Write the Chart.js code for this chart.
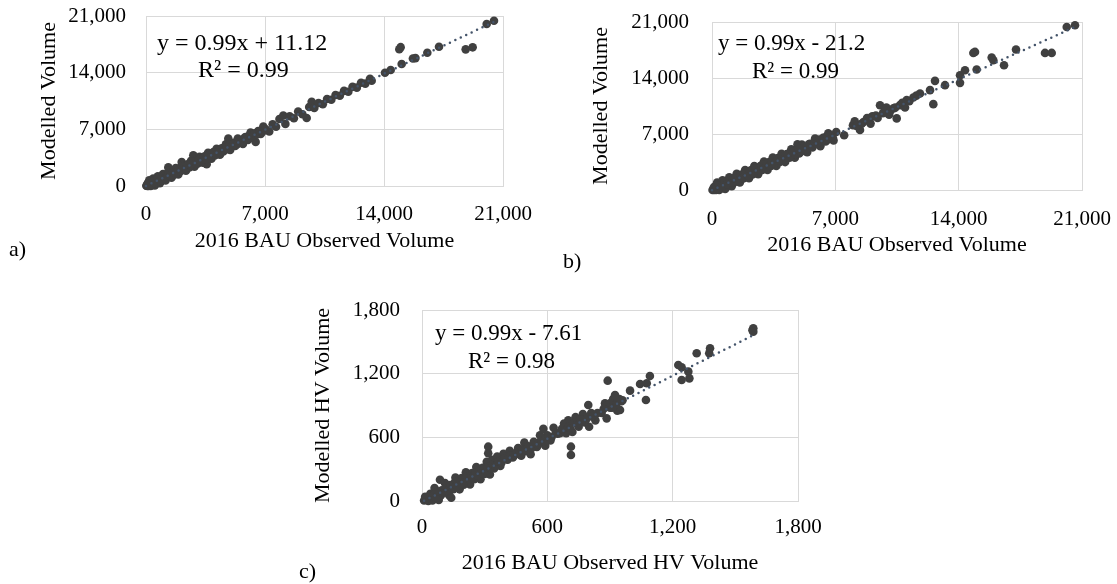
<!DOCTYPE html>
<html lang="en">
<head>
    <meta charset="UTF-8">
    <title>Observed vs modelled volume</title>
    <script src="https://cdn.jsdelivr.net/npm/chart.js"></script>
    <style>
        body { margin: 0; background: #fff; width: 1117px; height: 584px; position: relative; overflow: hidden; }
        .box { position: absolute; }
        .txt { position: absolute; font-family: 'Liberation Serif', 'Times New Roman', 'DejaVu Serif', serif; line-height: 1; white-space: nowrap; color: #000; }
    </style>
</head>
<body>
    <div class="box" style="left:0; top:0;"><canvas id="grafA" width="560" height="270"></canvas></div>
    <div class="box" style="left:560px; top:0;"><canvas id="grafB" width="557" height="270"></canvas></div>
    <div class="box" style="left:300px; top:270px;"><canvas id="grafC" width="540" height="314"></canvas></div>

    <div class="txt" style="left:157px; top:30px; font-size:24px;">y = 0.99x + 11.12</div>
    <div class="txt" style="left:198px; top:57px; font-size:24px;">R² = 0.99</div>
    <div class="txt" style="left:718px; top:31px; font-size:23px;">y = 0.99x - 21.2</div>
    <div class="txt" style="left:752px; top:59px; font-size:23px;">R² = 0.99</div>
    <div class="txt" style="left:435px; top:321px; font-size:23px;">y = 0.99x - 7.61</div>
    <div class="txt" style="left:468px; top:349px; font-size:23px;">R² = 0.98</div>
    <div class="txt" style="left:9px; top:238px; font-size:22px;">a)</div>
    <div class="txt" style="left:563px; top:250px; font-size:22px;">b)</div>
    <div class="txt" style="left:299px; top:560px; font-size:22px;">c)</div>

    <script>
        // a) total volume: observed (x) vs modelled (y)
        const obsA = [20, 50, 80, 110, 150, 190, 230, 280, 320, 370, 420, 470, 520, 580, 640, 700, 760, 820, 880, 940,
            1000, 1080, 1150, 1250, 1312, 1350, 1450, 1500, 1600, 1650, 1750, 1800, 1900, 2000, 2100, 2150, 2250, 2350, 2450, 2550,
            2650, 2782, 2850, 2950, 3050, 3150, 3250, 3350, 3450, 3570, 3650, 3750, 3850, 3950, 4050, 4150, 4250, 4350, 4450, 4550,
            4700, 4841, 4950, 5100, 5250, 5400, 5550, 5700, 5850, 6000, 6150, 6300, 6450, 6600, 6750, 6900, 7050, 7250, 7450, 7650,
            7850, 8076, 8200, 8450, 8700, 8950, 9200, 9452, 9600, 9746, 9900, 10150, 10400, 10650, 10900, 11150, 11400, 11650, 11900, 12150,
            12400, 12650, 12900, 13176, 13276, 14058, 14393, 14900, 14980, 15040, 15700, 15850, 16548, 17236, 18805, 19216, 20040, 20470];
        const modA = [30, 50, 0, 360, 0, 690, 230, 0, 570, 120, 920, 470, 70, 830, 380, 1190, 750, 360, 1120, 680,
            1490, 1070, 690, 1490, 2300, 1840, 1440, 1030, 1830, 1380, 2230, 1780, 1430, 2230, 2950, 2630, 2230, 1880, 2680, 2280,
            3120, 3800, 2370, 3170, 2770, 3620, 3220, 2870, 3670, 2700, 4110, 3710, 3360, 4160, 3760, 4610, 4210, 3860, 4660, 4260,
            5150, 5850, 4450, 5300, 4950, 5850, 5490, 5200, 6040, 5690, 6590, 6240, 5450, 6780, 6430, 7330, 6980, 6730, 7620, 7320,
            8270, 8700, 7670, 8610, 8360, 9210, 8860, 8400, 9750, 10400, 9650, 10250, 10100, 10750, 10650, 11250, 11150, 11750, 11650, 12250,
            12150, 12750, 12650, 13250, 13000, 13993, 14326, 16900, 17150, 15067, 15750, 15800, 16462, 17204, 16882, 17130, 20007, 20414];
        // more links inside the dense band of a)
        const obsA2 = [100, 260, 400, 540, 700, 850, 1000, 1150, 1300, 1450, 1600, 1750, 1900, 2050, 2200, 2350, 2500, 2650, 2800, 2950,
            3100, 3250, 3400, 3550, 3700, 3850, 4000, 4150, 4300, 4450, 4600, 4750, 4900, 5050, 5200, 5350, 5500, 5650, 5800, 5950,
            6100, 6250, 6400, 6550, 6700, 6850, 7000];
        const modA2 = [250, 120, 550, 350, 900, 650, 1150, 950, 1450, 1200, 1700, 1550, 2050, 1850, 2400, 2150, 2650, 2500, 3000, 2750,
            3250, 3050, 3550, 3350, 3900, 3650, 4200, 3950, 4500, 4250, 4750, 4550, 5100, 4850, 5350, 5150, 5650, 5450, 5950, 5750,
            6250, 6050, 6500, 6400, 6800, 6700, 7050];
        const trendA = [[0, 11], [20470, 20276]];

        // b) total volume, second scenario
        const obsB = [30, 80, 120, 180, 230, 290, 350, 410, 480, 540, 600, 680, 750, 820, 900, 980, 1050, 1120, 1200, 1300,
            1400, 1480, 1580, 1680, 1780, 1880, 2000, 2100, 2200, 2300, 2400, 2500, 2620, 2750, 2850, 2950, 3050, 3150, 3250, 3350,
            3450, 3550, 3650, 3750, 3850, 3950, 4050, 4150, 4250, 4400, 4500, 4600, 4700, 4850, 4950, 5100, 5250, 5400, 5550, 5700,
            5850, 6000, 6150, 6300, 6450, 6600, 6750, 6900, 7050, 7500, 8000, 8100, 8400, 8600, 8800, 9000, 9300, 9536, 9700, 9900,
            10050, 10300, 10483, 10671, 10955, 11050, 11428, 11600, 11806, 12374, 12562, 12657, 13225, 14077, 14077, 14360, 14833, 14928, 15022, 15874,
            15968, 16574, 17255, 18901, 19280, 20133, 20603];
        const modB = [10, 60, 0, 460, 0, 920, 330, 0, 750, 230, 1220, 650, 120, 1090, 570, 1600, 1020, 480, 1470, 990,
            2020, 1440, 940, 1940, 1440, 2490, 1960, 1460, 2460, 1950, 3000, 2450, 1970, 3000, 2500, 3550, 3000, 2500, 3500, 3000,
            4050, 3490, 3000, 4000, 3490, 4540, 3990, 3490, 4490, 4050, 5080, 4530, 4030, 5700, 4580, 5680, 5180, 4730, 5770, 5320,
            6420, 5920, 5470, 6510, 6060, 7100, 6660, 6200, 7250, 6850, 8100, 8600, 7500, 8500, 9000, 8300, 9300, 10600, 9600, 10300,
            9400, 10200, 8950, 10608, 10321, 11232, 11568, 11800, 12068, 12480, 10733, 13641, 13104, 13391, 14352, 14976, 17135, 17260, 15063, 16560,
            16227, 15600, 17560, 17135, 17135, 20380, 20592];
        const obsB2 = [100, 260, 400, 540, 700, 850, 1000, 1150, 1300, 1450, 1600, 1750, 1900, 2050, 2200, 2350, 2500, 2650, 2800, 2950,
            3100, 3250, 3400, 3550, 3700, 3850, 4000, 4150, 4300, 4450, 4600, 4750, 4900, 5050, 5200, 5350, 5500, 5650, 5800, 5950,
            6100, 6250, 6400, 6550, 6700, 6850, 8200, 8500, 8900, 9100, 9400, 9800, 10100, 10400, 10800, 11200];
        const modB2 = [300, 150, 600, 400, 950, 650, 1200, 900, 1500, 1200, 1800, 1500, 2100, 1800, 2400, 2100, 2700, 2400, 3050, 2700,
            3300, 3000, 3600, 3300, 3900, 3650, 4200, 3900, 4500, 4200, 4800, 4500, 5100, 4800, 5400, 5100, 5700, 5450, 6000, 5750,
            6300, 6000, 6550, 6300, 6850, 6600, 8000, 8300, 8700, 9200, 9000, 9900, 9800, 10300, 10900, 11100];
        const trendB = [[0, -21], [20603, 20376]];

        // c) heavy vehicle volume
        const obsC = [10, 20, 30, 40, 50, 60, 70, 80, 86, 90, 110, 120, 130, 140, 150, 160, 170, 180, 190, 200,
            210, 220, 230, 240, 250, 260, 270, 280, 290, 300, 310, 317, 317, 325, 335, 345, 360, 375, 390, 405,
            420, 440, 460, 475, 490, 505, 520, 535, 550, 565, 581, 590, 600, 615, 630, 650, 680, 690, 700, 713,
            713, 720, 735, 750, 770, 780, 796, 800, 810, 830, 860, 876, 884, 889, 900, 915, 924, 935, 948, 955,
            996, 1044, 1072, 1076, 1091, 1227, 1243, 1243, 1275, 1280, 1315, 1375, 1379, 1582, 1586, 1586];
        const modC = [5, 12, 0, 67, 6, 122, 62, 10, 200, 53, 170, 111, 55, 30, 112, 220, 161, 110, 216, 153,
            270, 210, 155, 264, 205, 320, 260, 205, 314, 255, 370, 512, 450, 250, 389, 306, 419, 330, 445, 393,
            473, 428, 500, 427, 550, 492, 440, 557, 510, 620, 680, 520, 620, 570, 690, 635, 730, 640, 760, 512,
            434, 650, 790, 700, 820, 740, 905, 700, 830, 760, 830, 921, 779, 1134, 880, 960, 999, 850, 858, 940,
            1040, 1103, 952, 1109, 1178, 1282, 1260, 1140, 1219, 1156, 1392, 1392, 1439, 1610, 1628, 1596];
        const obsC2 = [15, 35, 55, 65, 75, 95, 105, 115, 125, 135, 145, 155, 165, 175, 185, 195, 205, 215, 225, 235,
            245, 255, 265, 275, 285, 295, 305, 315, 330, 340, 350, 365, 380, 395, 410, 425, 435, 450, 465, 480,
            495, 510, 525, 540, 555, 570, 585, 605, 620, 640, 660, 670, 700, 710, 730, 745, 760, 790, 815, 840,
            870, 880, 900, 910, 930, 945, 960];
        const modC2 = [40, 45, 60, 30, 90, 100, 80, 140, 100, 150, 120, 170, 140, 185, 160, 200, 180, 230, 200, 240,
            220, 265, 240, 285, 260, 300, 280, 320, 310, 345, 330, 370, 360, 400, 390, 430, 410, 455, 440, 485,
            470, 515, 500, 545, 530, 570, 560, 605, 600, 640, 640, 680, 700, 680, 740, 720, 770, 780, 800, 830,
            870, 900, 920, 880, 910, 960, 950];
        const trendC = [[10, 2], [1586, 1562]];

        const serif = "'Liberation Serif', 'Times New Roman', 'DejaVu Serif', serif";
        const pontos = (xs, ys) => xs.map((v, i) => ({x: v, y: ys[i]}));
        const linha = (t) => t.map(p => ({x: p[0], y: p[1]}));

        function montaGrafico(id, cfg) {
            const eixo = (max, step, titulo, ehX) => ({
                type: 'linear',
                min: 0, max: max,
                ticks: {stepSize: step, padding: ehX ? cfg.tickPadX : cfg.tickPadY, color: '#000', font: {family: serif, size: 21}},
                grid: {color: '#d9d9d9', lineWidth: 1, drawTicks: false},
                border: {color: '#d9d9d9'},
                title: {
                    display: true, text: titulo, color: '#000',
                    font: {family: serif, size: 22},
                    padding: ehX ? {top: 0, bottom: cfg.titlePadX} : {top: cfg.titlePadY, bottom: 0}
                },
                afterFit: (s) => {
                    if (ehX) s.height = cfg.xHeight; else s.width = cfg.yWidth;
                    s.paddingLeft = 0; s.paddingRight = 0; s.paddingTop = 0; s.paddingBottom = 0;
                }
            });

            return new Chart(document.getElementById(id), {
                type: 'scatter',
                data: {
                    datasets: [{
                        data: linha(cfg.trend),
                        showLine: true,
                        borderColor: '#44546a',
                        borderWidth: 2.5,
                        borderDash: [0, 6],
                        borderCapStyle: 'round',
                        pointRadius: 0,
                        order: 0,
                        clip: false
                    }, {
                        data: pontos(cfg.obs, cfg.mod).concat(pontos(cfg.obs2, cfg.mod2)),
                        backgroundColor: '#404040',
                        borderWidth: 0,
                        pointRadius: 4.3,
                        order: 1,
                        clip: false
                    }]
                },
                options: {
                    responsive: false,
                    animation: false,
                    layout: {padding: cfg.pad},
                    plugins: {legend: {display: false}, tooltip: {enabled: false}},
                    scales: {
                        x: eixo(cfg.max, cfg.step, cfg.xTitle, true),
                        y: eixo(cfg.max, cfg.step, cfg.yTitle, false)
                    }
                }
            });
        }

        montaGrafico('grafA', {
            obs: obsA, mod: modA, obs2: obsA2, mod2: modA2, trend: trendA, max: 21000, step: 7000,
            xTitle: '2016 BAU Observed Volume', yTitle: 'Modelled Volume',
            pad: {left: 0, top: 16, right: 57, bottom: 0},
            yWidth: 146, xHeight: 84, tickPadX: 16, tickPadY: 20, titlePadX: 16, titlePadY: 36
        });

        montaGrafico('grafB', {
            obs: obsB, mod: modB, obs2: obsB2, mod2: modB2, trend: trendB, max: 21000, step: 7000,
            xTitle: '2016 BAU Observed Volume', yTitle: 'Modelled Volume',
            pad: {left: 0, top: 22, right: 35, bottom: 0},
            yWidth: 152, xHeight: 80, tickPadX: 17, tickPadY: 23, titlePadX: 12, titlePadY: 28
        });

        montaGrafico('grafC', {
            obs: obsC, mod: modC, obs2: obsC2, mod2: modC2, trend: trendC, max: 1800, step: 600,
            xTitle: '2016 BAU Observed HV Volume', yTitle: 'Modelled HV Volume',
            pad: {left: 0, top: 40, right: 42, bottom: 0},
            yWidth: 122, xHeight: 83, tickPadX: 14, tickPadY: 22, titlePadX: 8, titlePadY: 10
        });
    </script>
</body>
</html>
